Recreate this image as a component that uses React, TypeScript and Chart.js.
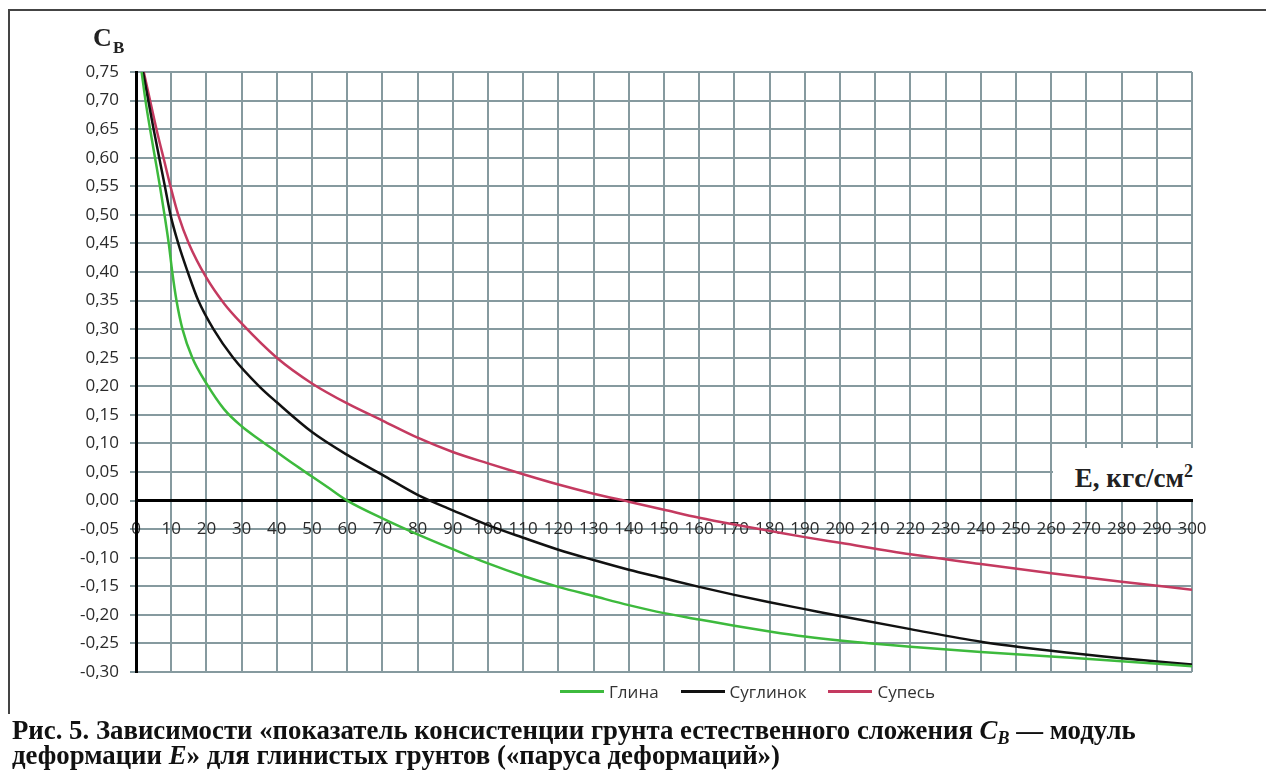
import React, { useEffect, useRef } from "react";
import { Chart, registerables } from "chart.js";

Chart.register(...registerables);

// ---- data ----
const seriesNames = ["Глина", "Суглинок", "Супесь"];
const seriesColors = ["#3dba3d", "#111111", "#c43a60"];

const glinaE = [1.6, 2.7, 4.0, 5.4, 6.8, 8.1, 9.3, 10.3, 11.5, 13.2, 16, 20, 25, 30, 35, 40, 45, 50, 55, 60, 70, 80, 90, 100, 110, 120, 130, 140, 150, 160, 170, 180, 190, 200, 220, 240, 260, 280, 300];
const glinaC = [0.75, 0.7, 0.65, 0.6, 0.55, 0.5, 0.45, 0.4, 0.35, 0.3, 0.25, 0.205, 0.16, 0.13, 0.107, 0.085, 0.063, 0.042, 0.021, 0.0, -0.031, -0.059, -0.085, -0.11, -0.132, -0.151, -0.167, -0.183, -0.197, -0.208, -0.219, -0.229, -0.238, -0.245, -0.256, -0.265, -0.273, -0.281, -0.29];

const suglinokE = [2.0, 3.5, 5.0, 6.6, 8.2, 9.8, 12, 14.7, 17.7, 22, 27.6, 35, 40, 50, 60, 70, 80, 90, 100, 110, 120, 130, 140, 150, 160, 170, 180, 190, 200, 220, 240, 260, 280, 300];
const suglinokC = [0.75, 0.7, 0.65, 0.6, 0.55, 0.5, 0.45, 0.4, 0.35, 0.3, 0.25, 0.2, 0.172, 0.12, 0.08, 0.045, 0.01, -0.017, -0.043, -0.065, -0.086, -0.104, -0.121, -0.136, -0.151, -0.165, -0.178, -0.19, -0.202, -0.225, -0.247, -0.263, -0.276, -0.287];

const supesE = [2.2, 4.0, 6, 8, 10, 12, 15, 20, 25, 30, 40, 50, 60, 70, 80, 90, 100, 110, 120, 130, 140, 150, 160, 170, 180, 190, 200, 220, 240, 260, 280, 300];
const supesC = [0.75, 0.7, 0.645, 0.595, 0.545, 0.5, 0.45, 0.39, 0.345, 0.31, 0.25, 0.205, 0.17, 0.14, 0.11, 0.085, 0.065, 0.046, 0.028, 0.012, -0.002, -0.016, -0.03, -0.042, -0.053, -0.064, -0.074, -0.094, -0.111, -0.127, -0.142, -0.156];

const xMin = 0;
const xMax = 300;
const xStep = 10;
const yMin = -0.3;
const yMax = 0.75;
const yStep = 0.05;

const seriesE = [glinaE, suglinokE, supesE];
const seriesC = [glinaC, suglinokC, supesC];

const GRID = "#869a9f";
const TICK_FONT = { family: "'Open Sans', sans-serif", size: 17 };

export default function App() {
  const ref = useRef<HTMLCanvasElement>(null);

  useEffect(() => {
    if (!ref.current) return;
    const datasets = seriesNames.map((name, i) => ({
      label: name,
      data: seriesE[i].map((e, k) => ({ x: e, y: seriesC[i][k] })),
      borderColor: seriesColors[i],
      backgroundColor: seriesColors[i],
      borderWidth: 2.5,
      pointRadius: 0,
      cubicInterpolationMode: "monotone" as const,
      fill: false,
    }));
    const chart = new Chart(ref.current, {
      type: "line",
      data: { datasets },
      options: {
        responsive: false,
        animation: false,
        layout: { padding: { left: 0, top: 72, right: 74, bottom: 99 } },
        plugins: {
          legend: { display: false },
          tooltip: { enabled: false },
        },
        scales: {
          x: {
            type: "linear",
            position: { y: 0 },
            min: xMin,
            max: xMax,
            ticks: {
              stepSize: xStep,
              autoSkip: false,
              maxRotation: 0,
              padding: 12,
              color: "#2a2a2a",
              font: TICK_FONT,
              callback: (v: any) => String(v),
            },
            grid: { color: GRID, lineWidth: 2, tickLength: 6 },
            border: { color: "#000", width: 3 },
          },
          y: {
            type: "linear",
            min: yMin,
            max: yMax,
            ticks: {
              stepSize: yStep,
              padding: 11,
              color: "#2a2a2a",
              font: TICK_FONT,
              callback: (v: any) => Number(v).toFixed(2).replace(".", ","),
            },
            grid: { color: GRID, lineWidth: 2, tickLength: 6 },
            border: { color: "#000", width: 3 },
            afterFit: (s: any) => {
              s.width = 136;
              s.paddingTop = 0;
              s.paddingBottom = 0;
            },
          },
        },
      },
    });
    return () => chart.destroy();
  }, []);

  const serif = "'Liberation Serif', 'Times New Roman', serif";
  const sans = "'Open Sans', sans-serif";

  return (
    <div style={{ position: "absolute", left: 0, top: 0, width: 1266, height: 771, background: "#fff", overflow: "hidden" }}>
      <div style={{ position: "absolute", left: 8, top: 9, width: 1300, height: 703, borderTop: "2px solid #444", borderLeft: "2px solid #444" }} />
      <canvas ref={ref} width={1266} height={771} style={{ position: "absolute", left: 0, top: 0 }} />
      {/* y axis title */}
      <div style={{ position: "absolute", left: 93, top: 25, font: `bold 26px ${serif}`, lineHeight: 1, color: "#222" }}>C</div>
      <div style={{ position: "absolute", left: 113, top: 39, font: `bold 17px ${serif}`, lineHeight: 1, color: "#222" }}>B</div>
      {/* x axis title */}
      <div style={{ position: "absolute", left: 1053, width: 140, top: 448, height: 51, background: "#fff" }} />
      <div style={{ position: "absolute", right: 73, top: 465, font: `bold 27px ${serif}`, lineHeight: 1, color: "#222", whiteSpace: "nowrap" }}>
        E, кгс/см<span style={{ fontSize: 18, position: "relative", top: -10 }}>2</span>
      </div>
      {/* legend */}
      <div style={{ position: "absolute", left: 560, top: 680, display: "flex", alignItems: "center", font: `17px ${sans}`, color: "#333", whiteSpace: "nowrap" }}>
        {seriesNames.map((n, i) => (
          <div key={n} style={{ display: "flex", alignItems: "center", marginRight: 22 }}>
            <span style={{ display: "inline-block", width: 44, height: 3, background: seriesColors[i], marginRight: 5 }} />
            <span>{n}</span>
          </div>
        ))}
      </div>
      {/* caption */}
      <div style={{ position: "absolute", left: 12, top: 718, font: `bold 26.8px ${serif}`, lineHeight: "25px", color: "#111", whiteSpace: "nowrap" }}>
        <div>
          Рис. 5. Зависимости «показатель консистенции грунта естественного сложения <i>C</i>
          <sub style={{ fontSize: 18, fontStyle: "italic", verticalAlign: "-5px", lineHeight: 0 }}>B</sub> — модуль
        </div>
        <div>
          деформации <i>E</i>» для глинистых грунтов («паруса деформаций»)
        </div>
      </div>
    </div>
  );
}
